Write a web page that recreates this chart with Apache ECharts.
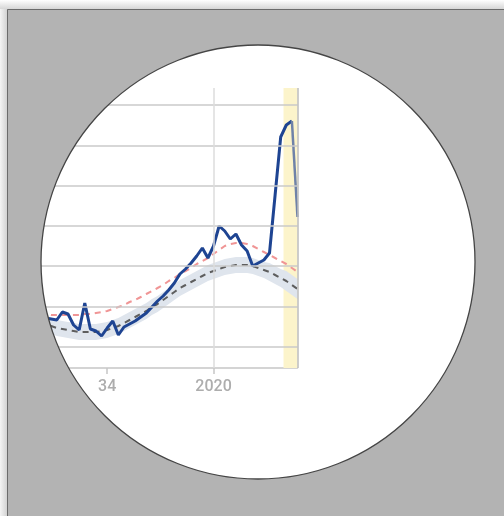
<!DOCTYPE html>
<html>
<head>
<meta charset="utf-8">
<script src="https://cdn.jsdelivr.net/npm/echarts@6/dist/echarts.min.js"></script>
<style>
  html, body { margin: 0; padding: 0; background: #fff; }
  #chart { width: 504px; height: 516px; }
</style>
</head>
<body>
<div id="chart"></div>
<script>
// weekly figures, 2019 week 22 -> 2020 week 16
var weeks = ['2019-22','2019-23','2019-24','2019-25','2019-26','2019-27','2019-28','2019-29','2019-30','2019-31',
             '2019-32','2019-33','2019-34','2019-35','2019-36','2019-37','2019-38','2019-39','2019-40','2019-41',
             '2019-42','2019-43','2019-44','2019-45','2019-46','2019-47','2019-48','2019-49','2019-50','2019-51',
             '2019-52','2020-01','2020-02','2020-03','2020-04','2020-05','2020-06','2020-07','2020-08','2020-09',
             '2020-10','2020-11','2020-12','2020-13','2020-14','2020-15','2020-16'];
var tickLabels = { '2019-34': '34', '2020-01': '2020' };

var observed = [50,50,49,48,56,54,43,38,65,39,37,32,40,47,33,41,44,47,51,55,61,67,72,78,85,94,99,105,112,120,
                110,122,142,137,129,134,123,117,102,105,108,115,173,231,243,247,151];
var threshold = [54,54,53,53,53,53,53,53,54,54,55,56,57,59,61,63,66,68,71,74,77,80,83,87,90,94,97,100,104,107,
                 110,114,118,122,124,125,125,124,122,119,116,113,110,107,104,100,96];
var expected = [46,44,42,40,39,38,37,36,36,36,36,37,38,40,42,45,48,51,54,57,61,64,68,72,76,80,83,86,89,92,
                95,97,99,101,102,103,103,103,102,100,98,96,93,90,87,83,79];
var bandLow = [38,36,34,32,31,30,29,28,28,28,28,29,30,32,34,37,40,43,46,49,53,56,60,64,68,72,75,78,81,84,
               87,89,91,93,94,95,95,95,94,92,90,87,84,81,77,73,69];
var bandHigh = [54,52,50,48,47,46,45,44,44,44,44,45,46,48,50,53,56,59,62,65,69,72,76,80,84,88,91,94,97,100,
                103,105,107,109,110,111,111,111,110,108,106,105,102,99,97,93,89];
var gridValues = [21, 61, 102, 142, 182, 222, 263];
var highlightFrom = 43.5; // incomplete weeks, in week-index units

var bandWidth = bandHigh.map(function(v, i){ return v - bandLow[i]; });
var lastIdx = observed.length - 1;
var observedMain = observed.map(function(v, i){ return i < lastIdx ? v : null; });
var observedTail = observed.map(function(v, i){ return i >= lastIdx - 1 ? v : null; });

var hLines = gridValues.map(function(v){ return { yAxis: v }; });
hLines.push({ xAxis: '2020-01', lineStyle: { color: '#dcdcdc', width: 1.5 } });
hLines.push({ xAxis: weeks[lastIdx], lineStyle: { color: '#bdbdbd', width: 1.5 } });

var myChart = echarts.init(document.getElementById('chart'));
var option = {
    animation: false,
    backgroundColor: '#fff',
    grid: { left: 40, right: 206.5, top: 88, bottom: 148 },
    xAxis: [{
        type: 'category',
        data: weeks,
        boundaryGap: false,
        axisLine: { lineStyle: { color: '#c6c6c6', width: 1.5 } },
        axisTick: {
            show: true,
            length: 6,
            interval: function(idx, val){ return tickLabels[val] !== undefined; },
            lineStyle: { color: '#c6c6c6', width: 1.5 }
        },
        axisLabel: {
            interval: function(idx, val){ return tickLabels[val] !== undefined; },
            formatter: function(v){ return tickLabels[v] || ''; },
            color: '#adadad',
            fontSize: 16,
            fontWeight: 500,
            fontFamily: 'Roboto',
            margin: 11
        },
        splitLine: { show: false }
    }, {
        // same span as the week axis, used for the shaded weeks
        type: 'value', min: 0, max: lastIdx, show: false
    }],
    yAxis: { type: 'value', min: 0, max: 280, show: false },
    series: [
        {
            name: 'highlight', type: 'line', xAxisIndex: 1, data: [], silent: true, z: 0,
            markArea: {
                silent: true,
                itemStyle: { color: '#fcf4cb' },
                data: [[{ xAxis: highlightFrom }, { xAxis: lastIdx }]]
            }
        },
        {
            name: 'bandBase', type: 'line', stack: 'band', data: bandLow,
            symbol: 'none', silent: true, lineStyle: { opacity: 0 }, z: 1,
            markLine: {
                silent: true, symbol: 'none', label: { show: false },
                lineStyle: { color: '#cacaca', width: 1.5, type: 'solid' },
                data: hLines
            }
        },
        {
            name: 'band', type: 'line', stack: 'band', data: bandWidth,
            symbol: 'none', silent: true, lineStyle: { opacity: 0 }, z: 1,
            areaStyle: { color: '#dfe5ed', opacity: 1 }
        },
        {
            name: 'expected', type: 'line', data: expected, symbol: 'none', z: 3,
            lineStyle: { color: '#5e5e5e', width: 2, type: [6, 5] }
        },
        {
            name: 'threshold', type: 'line', data: threshold, symbol: 'none', z: 3,
            lineStyle: { color: '#f09595', width: 2, type: [6, 5] }
        },
        {
            name: 'observed', type: 'line', data: observedMain, symbol: 'none', z: 4,
            lineStyle: { color: '#1e4492', width: 3 }
        },
        {
            name: 'observedTail', type: 'line', data: observedTail, symbol: 'none', z: 4,
            lineStyle: { color: '#6f82a8', width: 2.5 }
        }
    ],
    graphic: {
        elements: [
            { type: 'ring', silent: true, z: 100,
              shape: { cx: 258, cy: 262, r: 900, r0: 217 },
              style: { fill: '#b3b3b3' } },
            { type: 'circle', silent: true, z: 101,
              shape: { cx: 258, cy: 262, r: 217 },
              style: { fill: 'none', stroke: '#454545', lineWidth: 1.3 } },
            { type: 'rect', silent: true, z: 102,
              shape: { x: 0, y: 0, width: 504, height: 9 },
              style: { fill: new echarts.graphic.LinearGradient(0, 0, 0, 1, [
                  { offset: 0, color: '#ffffff' }, { offset: 1, color: '#d6d6d6' }]) } },
            { type: 'rect', silent: true, z: 102,
              shape: { x: 0, y: 9, width: 7, height: 507 },
              style: { fill: new echarts.graphic.LinearGradient(0, 0, 1, 0, [
                  { offset: 0, color: '#f4f4f4' }, { offset: 1, color: '#d2d2d2' }]) } },
            { type: 'polyline', silent: true, z: 103,
              shape: { points: [[7.5, 516], [7.5, 9.5], [504, 9.5]] },
              style: { fill: null, stroke: '#6b6b6b', lineWidth: 1 } }
        ]
    }
};
myChart.setOption(option);
</script>
</body>
</html>
